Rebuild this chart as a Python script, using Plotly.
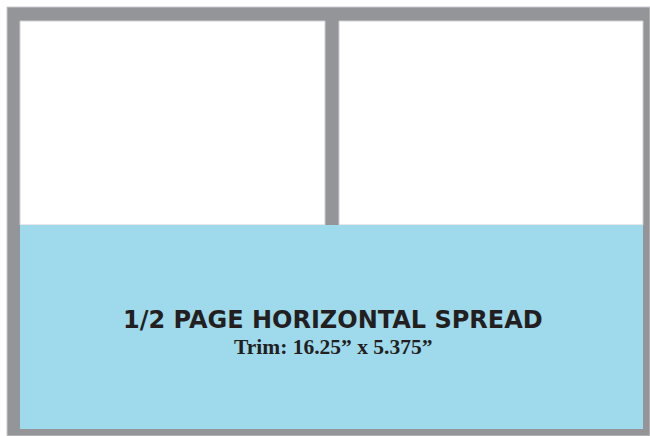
import plotly.graph_objects as go

# Layout elements (pixel-space data, y downwards)
frame = dict(x0=7, y0=7, x1=650, y1=436)
panels_x = [(20, 325), (339, 643)]
panels_y = (21, 225)
ad_area = dict(x0=20, y0=225, x1=643, y1=429)
title = "1/2 PAGE HORIZONTAL SPREAD"
subtitle = "Trim: 16.25\u201d x 5.375\u201d"

GRAY = "#939598"
BLUE = "#9fd9ec"

fig = go.Figure()
fig.add_trace(go.Scatter(x=[0, 650], y=[0, 436], mode="markers",
                         marker=dict(opacity=0), hoverinfo="skip", showlegend=False))

shapes = []
shapes.append(dict(type="rect", xref="x", yref="y", **frame,
                   fillcolor=GRAY, line=dict(color="#c9cacc", width=1), layer="below"))
for (a, b) in panels_x:
    shapes.append(dict(type="rect", xref="x", yref="y", x0=a, x1=b,
                       y0=panels_y[0], y1=panels_y[1],
                       fillcolor="white", line=dict(color="#d0d0d0", width=1), layer="below"))
shapes.append(dict(type="rect", xref="x", yref="y", **ad_area,
                   fillcolor=BLUE, line=dict(color=BLUE, width=0), layer="below"))
fig.update_layout(shapes=shapes)

fig.add_annotation(x=333, y=320, xref="x", yref="y", text="<b>" + title + "</b>",
                   showarrow=False, font=dict(family="DejaVu Sans", size=24, color="#231f20"))
fig.add_annotation(x=333, y=347, xref="x", yref="y", text="<b>" + subtitle + "</b>",
                   showarrow=False, font=dict(family="Liberation Serif", size=21.5, color="#231f20"))

fig.update_xaxes(range=[0, 650], visible=False, fixedrange=True)
fig.update_yaxes(range=[436, 0], visible=False, fixedrange=True)
fig.update_layout(width=650, height=436, margin=dict(l=0, r=0, t=0, b=0),
                  paper_bgcolor="white", plot_bgcolor="white")

fig.write_html("out.html", config={"displayModeBar": False},
               post_script="document.body.style.margin='0';")
